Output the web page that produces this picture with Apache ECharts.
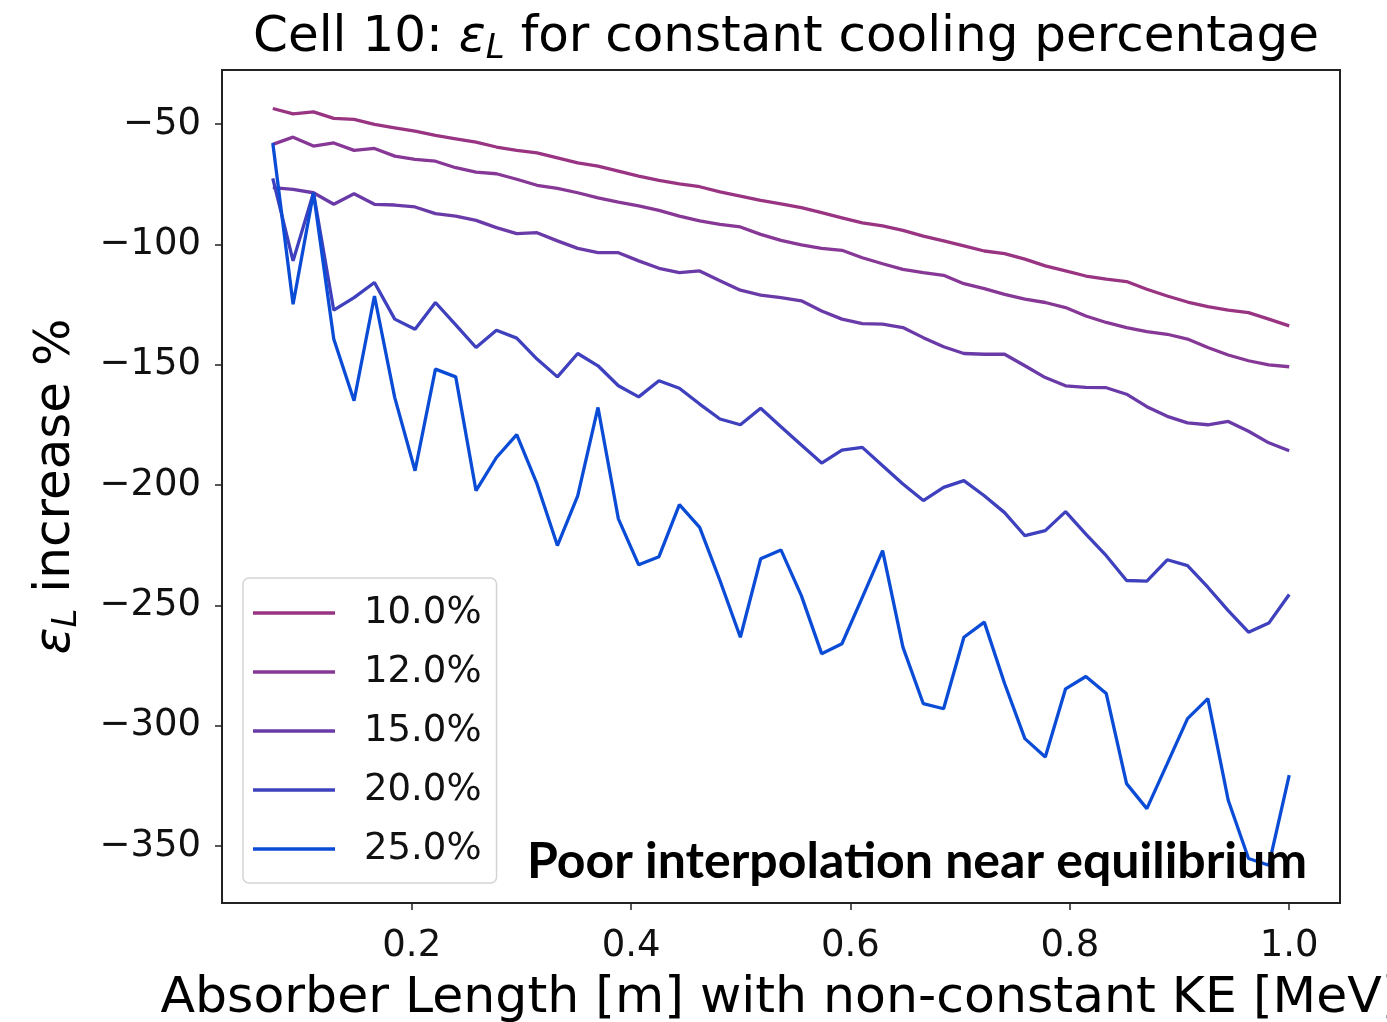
<!DOCTYPE html>
<html><head><meta charset="utf-8">
<script src="https://cdn.jsdelivr.net/npm/echarts@6/dist/echarts.min.js"></script>
<style>html,body{margin:0;padding:0;background:#fff}#c{width:1387px;height:1022px}</style>
</head><body><div id="c"></div>
<script>
// Absorber length [m] sample positions
const xVals = [0.0733,0.0918,0.1104,0.1289,0.1474,0.1660,0.1845,0.2030,0.2216,0.2401,
  0.2586,0.2772,0.2957,0.3142,0.3328,0.3513,0.3698,0.3884,0.4069,0.4254,
  0.4440,0.4625,0.4810,0.4996,0.5181,0.5366,0.5552,0.5737,0.5922,0.6108,
  0.6293,0.6478,0.6664,0.6849,0.7034,0.7220,0.7405,0.7590,0.7776,0.7961,
  0.8146,0.8332,0.8517,0.8702,0.8888,0.9073,0.9258,0.9444,0.9629,0.9814,1.0000];

const s10 = [-43.5,-45.7,-44.9,-47.6,-48.0,-50.1,-51.5,-52.9,-54.7,-56.1,-57.5,-59.5,-60.9,-61.9,-64.0,-66.1,-67.4,
  -69.5,-71.6,-73.4,-74.8,-76.0,-78.1,-79.9,-81.7,-83.1,-84.7,-86.8,-88.9,-91.0,-92.3,-94.1,-96.5,-98.5,-100.6,-102.7,
  -103.8,-106.1,-108.9,-111.0,-113.1,-114.4,-115.4,-118.6,-121.4,-123.9,-125.8,-127.3,-128.3,-131.0,-133.8];
const s12 = [-58.4,-55.4,-59.1,-57.8,-60.9,-60.1,-63.3,-64.6,-65.4,-68.1,-69.9,-70.6,-72.9,-75.4,-76.7,-78.5,-80.6,
  -82.4,-84.0,-85.8,-88.2,-90.2,-91.6,-92.7,-95.8,-98.3,-100.2,-101.6,-102.4,-105.5,-108.0,-110.3,-111.7,-112.8,-116.3,-118.3,
  -120.7,-122.7,-124.1,-126.2,-129.7,-132.4,-134.5,-136.2,-137.3,-139.3,-142.8,-145.9,-148.3,-150.0,-150.8];
const s15 = [-76.4,-77.1,-78.5,-83.3,-78.9,-83.3,-83.6,-84.4,-87.2,-88.2,-90.0,-93.0,-95.5,-95.1,-98.5,-101.6,-103.4,
  -103.4,-106.8,-109.9,-111.7,-111.0,-115.1,-119.0,-121.0,-122.1,-123.4,-127.6,-131.0,-132.9,-133.1,-134.5,-138.7,-142.5,-145.3,-145.6,
  -145.6,-150.4,-155.3,-158.7,-159.4,-159.5,-162.2,-167.4,-171.4,-174.1,-174.9,-173.5,-177.6,-182.4,-185.7];
const s20 = [-72.5,-106.8,-78.5,-127.3,-122.1,-115.8,-131.0,-135.2,-124.1,-133.4,-142.8,-135.6,-138.9,-147.6,-155.0,-145.3,-150.4,
  -158.7,-163.3,-156.6,-159.7,-166.3,-172.5,-174.9,-168.0,-175.7,-183.3,-190.8,-185.4,-184.3,-191.9,-199.5,-206.4,-200.9,-198.1,-204.4,
  -211.4,-221.0,-218.9,-211.0,-220.3,-229.3,-239.6,-239.9,-231.0,-233.4,-242.4,-252.1,-261.1,-257.3,-245.4];
const s25 = [-57.8,-124.8,-78.5,-139.3,-164.9,-121.4,-163.6,-194.0,-151.8,-155.0,-202.3,-188.5,-179.0,-199.5,-225.1,-204.4,-167.7,
  -214.0,-233.1,-229.7,-208.1,-217.5,-239.6,-263.2,-230.6,-226.9,-245.9,-270.0,-265.9,-246.6,-227.2,-267.3,-290.8,-292.9,-263.2,-256.9,
  -282.4,-305.3,-312.9,-284.6,-279.5,-286.6,-324.0,-334.4,-315.7,-297.0,-288.7,-330.9,-355.1,-357.9,-320.5];

const seriesNames = ['10.0%','12.0%','15.0%','20.0%','25.0%'];
const seriesColors = ['#993482','#873896','#6a3ba8','#3e40bd','#0b4cd6'];
const yTicks = [-350,-300,-250,-200,-150,-100,-50];
const xTicks = [0.2,0.4,0.6,0.8,1.0];
const titleText = 'Cell 10: ';
const titleRest = ' for constant cooling percentage';
const xName = 'Absorber Length [m] with non-constant KE [MeV]';
const yNameRest = ' increase %';
const noteText = 'Poor interpolation near equilibrium';

const FF = 'DejaVu Sans';
const richStyles = {
  a: {fontFamily: FF, fontSize: 50, lineHeight: 56, color: '#000'},
  e: {fontFamily: FF, fontSize: 50, lineHeight: 56, fontStyle: 'italic', color: '#000'},
  s: {fontFamily: FF, fontSize: 34, lineHeight: 30, fontStyle: 'italic', verticalAlign: 'bottom', color: '#000'}
};

const allSeries = [s10, s12, s15, s20, s25];
const chart = echarts.init(document.getElementById('c'), null, {renderer: 'canvas'});
chart.setOption({
  animation: false,
  backgroundColor: '#fff',
  title: {
    text: '{a|' + titleText + '}{e|ε}{s|L}{a|' + titleRest + '}',
    left: 781, top: 5, textAlign: 'center',
    textStyle: {fontFamily: FF, fontSize: 50, fontWeight: 'normal', color: '#000', rich: richStyles}
  },
  grid: {left: 222, right: 47, top: 70, bottom: 119, containLabel: false, outerBoundsMode: 'none',
    show: true, borderColor: '#222', borderWidth: 2, backgroundColor: 'transparent'},
  legend: {
    orient: 'vertical', left: 243, top: 578,
    padding: [15, 15, 14, 10],
    backgroundColor: '#fff', borderColor: '#d4d4d4', borderWidth: 1.5, borderRadius: 6,
    icon: 'rect', itemWidth: 82, itemHeight: 3.5, itemGap: 19,
    textStyle: {fontFamily: FF, fontSize: 37, lineHeight: 40, color: '#111', padding: [0, 0, 0, 24]},
    data: seriesNames
  },
  xAxis: {
    type: 'value', min: 0.027, max: 1.0463,
    name: xName, nameLocation: 'middle', nameGap: 70,
    nameTextStyle: {fontFamily: FF, fontSize: 50.5, color: '#000'},
    axisLine: {show: true, onZero: false, lineStyle: {color: '#222', width: 2}},
    axisTick: {show: true, length: 7, lineStyle: {color: '#222', width: 1.5}, customValues: xTicks},
    axisLabel: {fontFamily: FF, fontSize: 37, color: '#111', margin: 25, customValues: xTicks,
      formatter: v => Number(v).toFixed(1)},
    splitLine: {show: false}
  },
  yAxis: {
    type: 'value', min: -373.6, max: -27.5,
    name: '{e|ε}{s|L}{a|' + yNameRest + '}', nameLocation: 'middle', nameGap: 138, nameRotate: 90,
    nameTextStyle: {fontFamily: FF, fontSize: 50, color: '#000', rich: richStyles},
    axisLine: {show: true, onZero: false, lineStyle: {color: '#222', width: 2}},
    axisTick: {show: true, length: 7, lineStyle: {color: '#222', width: 1.5}, customValues: yTicks},
    axisLabel: {fontFamily: FF, fontSize: 37, color: '#111', margin: 21, customValues: yTicks,
      formatter: v => (v < 0 ? '\u2212' : '') + Math.abs(v)},
    splitLine: {show: false}
  },
  graphic: [{
    type: 'text', left: 527, top: 837, z: 100,
    style: {text: noteText, font: 'bold 50px Lato', fill: '#000'}
  }],
  series: allSeries.map((vals, k) => ({
    name: seriesNames[k], type: 'line', symbol: 'none', showSymbol: false,
    data: xVals.map((x, i) => [x, vals[i]]),
    lineStyle: {color: seriesColors[k], width: 3.3},
    itemStyle: {color: seriesColors[k]},
    emphasis: {disabled: true}
  }))
});
</script></body></html>
